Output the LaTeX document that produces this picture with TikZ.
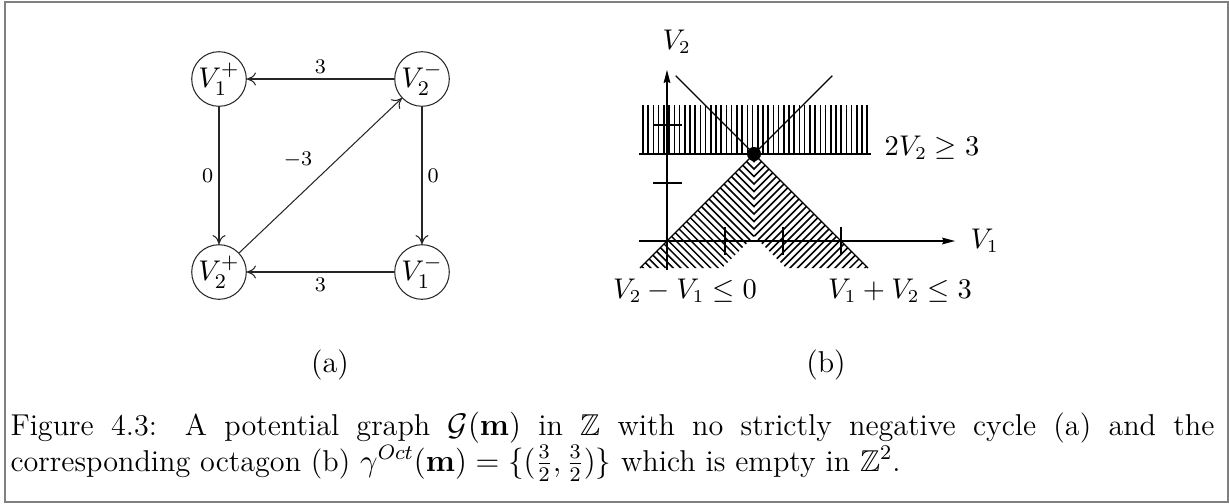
\documentclass[tikz,border=0pt]{standalone}
\usepackage{amsmath,amssymb}
\usetikzlibrary{arrows.meta}
\begin{document}
\begin{tikzpicture}[x=0.3846pt,y=-0.3846pt,
  vnode/.style={circle,draw=black!85,line width=0.4pt,inner sep=0pt,minimum size=21pt,font=\fontsize{11}{13}\selectfont},
  gedge/.style={draw=black!85,line width=0.4pt,-{To[length=3.5pt,width=5pt]}},
  elabel/.style={font=\footnotesize,inner sep=2pt},
  axis/.style={line width=0.45pt,-{Stealth[length=5pt,width=2.6pt,inset=0.6pt]}},
  thinline/.style={line width=0.45pt},
  hatch/.style={line width=0.6pt},
  blabel/.style={inner sep=0pt,font=\fontsize{10.7}{12}\selectfont},
  sublabel/.style={font=\fontsize{11.6}{13}\selectfont},
  framebox/.style={draw=black!50,line width=0.8pt}]
\useasboundingbox (0,0) rectangle (1229,503);
\draw[framebox] (5,2) rectangle (1228,502);

% ---- (a) potential graph ----
\node[vnode] (v1p) at (219,79) {$V_1^+$};
\node[vnode] (v2m) at (422,79) {$V_2^-$};
\node[vnode] (v2p) at (219,272) {$V_2^+$};
\node[vnode] (v1m) at (422,272) {$V_1^-$};
\draw[gedge] (v2m) -- node[elabel,above]{$3$} (v1p);
\draw[gedge] (v1p) -- node[elabel,left]{$0$} (v2p);
\draw[gedge] (v2m) -- node[elabel,right]{$0$} (v1m);
\draw[gedge] (v1m) -- node[elabel,below]{$3$} (v2p);
\draw[gedge] (v2p) -- node[elabel,midway,anchor=south east,inner sep=3pt]{$-3$} (v2m);
\node[sublabel,anchor=base] (capa) at (330,372) {(a)};

% ---- (b) octagon ----
\begin{scope}[shift={(667,241)},x=22.31pt,y=22.31pt]
  % vertical hatching for 2V2 >= 3
  \foreach \k in {0,...,43} \draw[hatch] ({-0.414+\k*0.0899},1.5) -- ++(0,0.845);
  \draw[hatch] (-0.483,1.5) -- (3.517,1.5);
  % diagonal hatching, V2 - V1 <= 0
  \begin{scope}
    \clip (-0.466,-0.466) -- (1.5,1.5) -- (1.5,0.086) -- (0.948,-0.466) -- cycle;
    \foreach \k in {0,...,32} \draw[hatch] ({1.5-\k*0.0646-0.2},{1.5-\k*0.0646+0.2}) -- ++(1.4,-1.4);
  \end{scope}
  % diagonal hatching, V1 + V2 <= 3
  \begin{scope}
    \clip (3.466,-0.466) -- (1.5,1.5) -- (1.5,0.086) -- (2.052,-0.466) -- cycle;
    \foreach \k in {0,...,32} \draw[hatch] ({1.5+\k*0.0646+0.2},{1.5-\k*0.0646+0.2}) -- ++(-1.4,-1.4);
  \end{scope}
  % axes
  \coordinate (xs) at (-0.483,0);
  \coordinate (xe) at (4.966,0);
  \coordinate (ys) at (0,-0.5);
  \coordinate (ye) at (0,2.948);
  \draw[axis] (xs) -- (xe);
  \draw[axis] (ys) -- (ye);
  \foreach \t in {1,2} \draw[thinline] (-0.24,\t) -- (0.25,\t);
  \foreach \t in {1,2,3} \draw[thinline] (\t,-0.24) -- (\t,0.24);
  % boundary lines
  \draw[thinline] (-0.466,-0.466) -- (2.85,2.85);
  \draw[thinline] (0.15,2.85) -- (3.466,-0.466);
  \fill (1.5,1.5) circle (2.7pt);
\end{scope}
\node[blabel,anchor=base west] (lv2) at (662,49) {$V_2$};
\node[blabel,anchor=base west] (lv1) at (970,248) {$V_1$};
\node[blabel,anchor=base west] (lc1) at (884,155) {$2V_2 \geq 3$};
\node[blabel,anchor=base] (lc2) at (685,298) {$V_2 - V_1 \leq 0$};
\node[blabel,anchor=base] (lc3) at (900,298) {$V_1 + V_2 \leq 3$};
\node[sublabel,anchor=base] (capb) at (826,372) {(b)};

% ---- caption ----
\node[anchor=base west,inner sep=0pt,text width=463pt,align=justify,
      font=\fontsize{11.6}{12.5}\selectfont] (cap) at (10,435)
 {Figure 4.3: A potential graph $\mathcal{G}(\mathbf{m})$ in $\mathbb{Z}$ with no strictly negative cycle (a) and the \mbox{corresponding} octagon (b) $\gamma^{Oct}(\mathbf{m}) = \{(\frac{3}{2},\frac{3}{2})\}$ which is empty in $\mathbb{Z}^2$.};
\end{tikzpicture}
\end{document}
